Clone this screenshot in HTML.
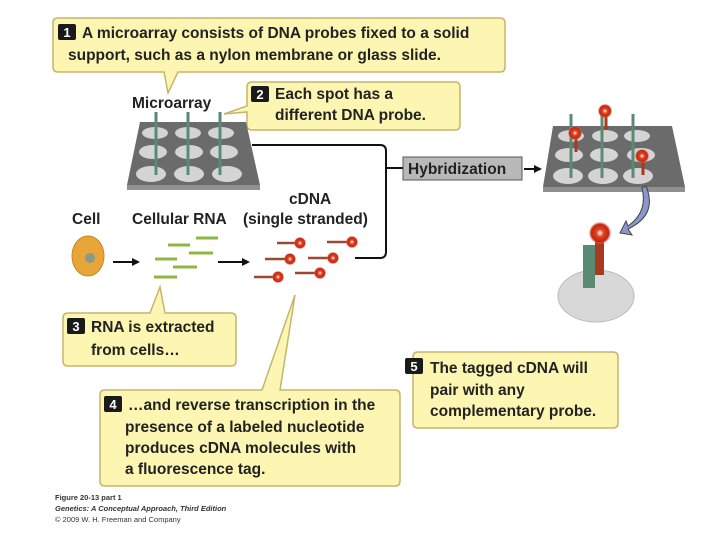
<!DOCTYPE html>
<html><head><style>
body{margin:0;width:720px;height:540px;background:#fff;overflow:hidden;font-family:"Liberation Sans",sans-serif;}
svg{position:absolute;left:0;top:0}
.t{font-family:"Liberation Sans",sans-serif;font-weight:bold;font-size:15.5px;fill:#222}
.f{font-family:"Liberation Sans",sans-serif;font-size:7.5px;fill:#333}
</style></head><body>
<svg width="720" height="540" viewBox="0 0 720 540">
<defs>
<radialGradient id="g" cx="50%" cy="50%" r="50%"><stop offset="0" stop-color="#fff"/><stop offset="0.35" stop-color="#e04020"/><stop offset="0.8" stop-color="#c02810"/><stop offset="1" stop-color="#e88070" stop-opacity="0.3"/></radialGradient>
</defs>
<g fill="#fdf6b2" stroke="#c8b46c" stroke-width="1.5">
<path d="M58,18 H500 Q505,18 505,23 V67 Q505,72 500,72 H178 L168,93 L164,72 H58 Q53,72 53,67 V23 Q53,18 58,18Z"/>
<path d="M252,82 H455 Q460,82 460,87 V125 Q460,130 455,130 H252 Q247,130 247,125 V112 L224,114 L247,106 V87 Q247,82 252,82Z"/>
<path d="M68,313 H150 L160,287 L165,313 H231 Q236,313 236,318 V361 Q236,366 231,366 H68 Q63,366 63,361 V318 Q63,313 68,313Z"/>
<path d="M105,390 H262 L295,295 L280,390 H395 Q400,390 400,395 V481 Q400,486 395,486 H105 Q100,486 100,481 V395 Q100,390 105,390Z"/>
<path d="M418,352 H613 Q618,352 618,357 V423 Q618,428 613,428 H418 Q413,428 413,423 V357 Q413,352 418,352Z"/>
</g>
<g fill="#1a1a1a"><rect x="58" y="24" width="18" height="16" rx="2"/><rect x="251" y="86" width="18" height="16" rx="2"/><rect x="67" y="318" width="18" height="16" rx="2"/><rect x="104" y="396" width="18" height="16" rx="2"/><rect x="405" y="358" width="18" height="16" rx="2"/></g>
<g font-family="Liberation Sans" font-weight="bold" font-size="13" fill="#fff" text-anchor="middle"><text x="67" y="37">1</text><text x="260" y="99">2</text><text x="76" y="331">3</text><text x="113" y="409">4</text><text x="414" y="371">5</text></g>
<text class="t" x="82" y="38">A microarray consists of DNA probes fixed to a solid</text>
<text class="t" x="68" y="60">support, such as a nylon membrane or glass slide.</text>
<text class="t" x="275" y="99">Each spot has a</text>
<text class="t" x="275" y="120">different DNA probe.</text>
<text class="t" x="91" y="332">RNA is extracted</text>
<text class="t" x="91" y="355">from cells…</text>
<text class="t" x="128" y="410">…and reverse transcription in the</text>
<text class="t" x="125" y="432">presence of a labeled nucleotide</text>
<text class="t" x="125" y="453">produces cDNA molecules with</text>
<text class="t" x="125" y="474">a fluorescence tag.</text>
<text class="t" x="430" y="373">The tagged cDNA will</text>
<text class="t" x="430" y="395">pair with any</text>
<text class="t" x="430" y="416">complementary probe.</text>
<text class="t" x="132" y="108">Microarray</text>
<text class="t" x="72" y="224">Cell</text>
<text class="t" x="132" y="224">Cellular RNA</text>
<text class="t" x="289" y="204">cDNA</text>
<text class="t" x="243" y="224">(single stranded)</text>
<path d="M140,122 H246 L260,185 H127Z" fill="#6b6b6b"/>
<path d="M127,185 H260 V190 H127Z" fill="#909090"/>
<g fill="#d4d4d4">
<ellipse cx="155" cy="133" rx="13" ry="6"/><ellipse cx="188" cy="133" rx="13" ry="6"/><ellipse cx="221" cy="133" rx="13" ry="6"/>
<ellipse cx="153" cy="152" rx="14" ry="7"/><ellipse cx="189" cy="152" rx="14" ry="7"/><ellipse cx="224" cy="152" rx="14" ry="7"/>
<ellipse cx="151" cy="174" rx="15" ry="8"/><ellipse cx="189" cy="174" rx="15" ry="8"/><ellipse cx="227" cy="174" rx="15" ry="8"/>
</g>
<g stroke="#5a8a74" stroke-width="3"><line x1="156" y1="112" x2="156" y2="175"/><line x1="188" y1="112" x2="188" y2="175"/><line x1="220" y1="112" x2="220" y2="175"/></g>
<path d="M252,145 H380 Q386,145 386,151 V252 Q386,258 380,258 H355" fill="none" stroke="#111" stroke-width="2"/>
<line x1="386" y1="168" x2="403" y2="168" stroke="#111" stroke-width="2"/>
<rect x="403" y="157" width="119" height="23" fill="#b9b9b9" stroke="#555"/>
<text class="t" x="408" y="174" fill="#222">Hybridization</text>
<line x1="524" y1="169" x2="536" y2="169" stroke="#111" stroke-width="2"/><path d="M542,169 L534,165 V173Z" fill="#111"/>
<path d="M553,126 H672 L685,187 H543Z" fill="#6b6b6b"/>
<path d="M543,187 H685 V192 H543Z" fill="#909090"/>
<g fill="#d4d4d4">
<ellipse cx="571" cy="136" rx="13" ry="6"/><ellipse cx="605" cy="136" rx="13" ry="6"/><ellipse cx="637" cy="136" rx="13" ry="6"/>
<ellipse cx="569" cy="155" rx="14" ry="7"/><ellipse cx="604" cy="155" rx="14" ry="7"/><ellipse cx="641" cy="155" rx="14" ry="7"/>
<ellipse cx="568" cy="176" rx="15" ry="8"/><ellipse cx="603" cy="176" rx="15" ry="8"/><ellipse cx="638" cy="176" rx="15" ry="8"/>
</g>
<g stroke="#5a8a74" stroke-width="3"><line x1="571" y1="114" x2="571" y2="178"/><line x1="602" y1="114" x2="602" y2="178"/><line x1="633" y1="114" x2="633" y2="178"/></g>
<g stroke="#a83a22" stroke-width="3"><line x1="576" y1="135" x2="576" y2="152"/><line x1="606" y1="112" x2="606" y2="130"/><line x1="643" y1="158" x2="643" y2="175"/></g>
<circle cx="575" cy="133" r="7" fill="url(#g)"/><circle cx="605" cy="111" r="7" fill="url(#g)"/><circle cx="642" cy="156" r="7" fill="url(#g)"/>
<path d="M646,186 Q658,215 628,229 L632,235 L620,233 L626,221 L628,226 Q648,212 642,188Z" fill="#8a96cc" stroke="#444" stroke-width="1"/>
<ellipse cx="596" cy="296" rx="38" ry="26" fill="#d8d8d8" stroke="#bbb"/>
<rect x="583" y="245" width="12" height="43" fill="#5a8a74"/>
<rect x="595" y="240" width="9" height="35" fill="#a83a22"/>
<circle cx="600" cy="233" r="11" fill="url(#g)"/>
<ellipse cx="88" cy="256" rx="16" ry="20" fill="#e8a53a" stroke="#c88520"/>
<circle cx="90" cy="258" r="5" fill="#8a9a8a"/>
<line x1="113" y1="262" x2="134" y2="262" stroke="#111" stroke-width="2"/><path d="M140,262 L132,258 V266Z" fill="#111"/>
<line x1="218" y1="262" x2="243" y2="262" stroke="#111" stroke-width="2"/><path d="M250,262 L242,258 V266Z" fill="#111"/>
<g stroke="#8cb840" stroke-width="3"><line x1="168" y1="245" x2="190" y2="245"/><line x1="196" y1="238" x2="218" y2="238"/><line x1="155" y1="259" x2="177" y2="259"/><line x1="189" y1="253" x2="213" y2="253"/><line x1="173" y1="267" x2="197" y2="267"/><line x1="154" y1="277" x2="177" y2="277"/></g>
<g stroke="#9a4a30" stroke-width="2.5"><line x1="277" y1="243" x2="295" y2="243"/><line x1="327" y1="242" x2="347" y2="242"/><line x1="265" y1="259" x2="285" y2="259"/><line x1="308" y1="258" x2="329" y2="258"/><line x1="254" y1="277" x2="273" y2="277"/><line x1="295" y1="273" x2="317" y2="273"/></g>
<g><circle cx="300" cy="243" r="6" fill="url(#g)"/><circle cx="352" cy="242" r="6" fill="url(#g)"/><circle cx="290" cy="259" r="6" fill="url(#g)"/><circle cx="333" cy="258" r="6" fill="url(#g)"/><circle cx="278" cy="277" r="6" fill="url(#g)"/><circle cx="320" cy="273" r="6" fill="url(#g)"/></g>
<text class="f" x="55" y="500" font-weight="bold">Figure 20-13 part 1</text>
<text class="f" x="55" y="511" font-weight="bold" font-style="italic">Genetics: A Conceptual Approach, Third Edition</text>
<text class="f" x="55" y="522">© 2009 W. H. Freeman and Company</text>
</svg>
</body></html>
